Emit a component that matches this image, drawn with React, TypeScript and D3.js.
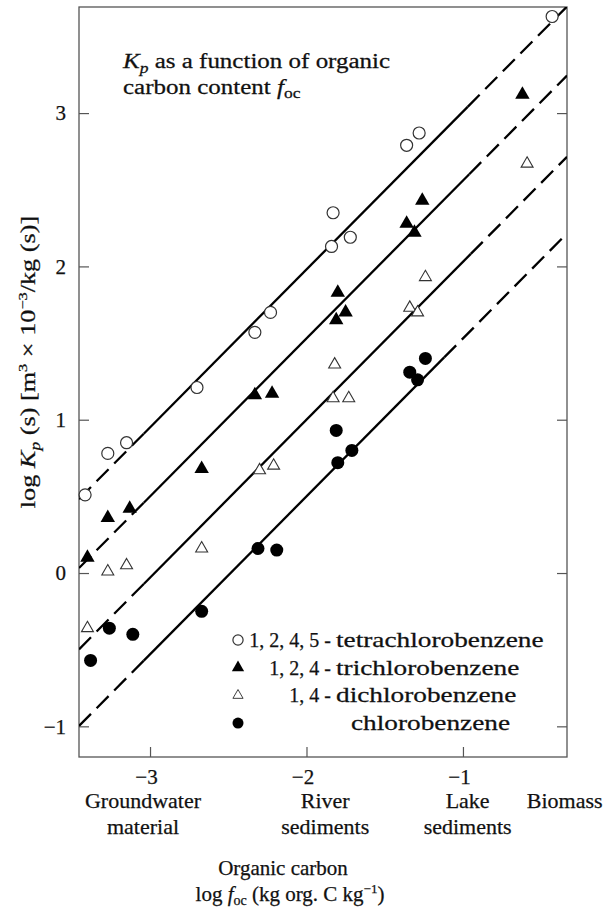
import React, { useRef, useEffect } from "react";
import * as d3 from "d3";

// Lecturas del gráfico: log f_oc (x) y log Kp (y)
const tetraX = [-3.415, -3.27, -3.15, -2.7, -2.33, -2.23, -1.83, -1.84, -1.72, -1.36, -1.28, -0.43];
const tetraY = [0.51, 0.78, 0.85, 1.21, 1.57, 1.7, 2.35, 2.13, 2.19, 2.79, 2.87, 3.63];
const triX = [-3.4, -3.27, -3.13, -2.67, -2.33, -2.22, -1.8, -1.75, -1.81, -1.26, -1.36, -1.31, -0.62];
const triY = [0.1, 0.36, 0.42, 0.68, 1.16, 1.17, 1.83, 1.7, 1.65, 2.43, 2.28, 2.22, 3.12];
const diX = [-3.4, -3.27, -3.15, -2.67, -2.3, -2.21, -1.82, -1.83, -1.73, -1.34, -1.29, -1.24, -0.59];
const diY = [-0.36, 0.01, 0.05, 0.16, 0.67, 0.7, 1.36, 1.14, 1.14, 1.73, 1.7, 1.93, 2.67];
const chloroX = [-3.38, -3.26, -3.11, -2.67, -2.31, -2.19, -1.81, -1.8, -1.71, -1.24, -1.34, -1.29];
const chloroY = [-0.57, -0.36, -0.4, -0.25, 0.16, 0.15, 0.93, 0.72, 0.8, 1.4, 1.31, 1.26];

// Rectas de ajuste: ordenada en log f_oc = 0, pendiente común, tramo continuo
const lineIntercepts = [4.04, 3.59, 3.06, 2.56];
const lineSlope = 1.03;
const solidStart = -3.04;
const solidEnds = [-0.97, -0.96, -0.95, -1.12];

const legendPrefixes = ["1, 2, 4, 5 -", "1, 2, 4 -", "1, 4 -", ""];
const legendNames = ["tetrachlorobenzene", "trichlorobenzene", "dichlorobenzene", "chlorobenzene"];

const xTicks = [-3, -2, -1];
const yTicks = [-1, 0, 1, 2, 3];
const categoryTop = ["Groundwater", "River", "Lake", "Biomass"];
const categoryBottom = ["material", "sediments", "sediments", ""];
const categoryAt = [-3.045, -1.88, -0.97, -0.35];

const FONT = "'Liberation Serif', 'Times New Roman', serif";

const Chart = ({ width = 615, height = 914 }) => {
  const d3Container = useRef(null);

  useEffect(() => {
    const container = d3Container.current;
    if (!container) return;
    d3.select(container).selectChildren().remove();

    d3.select(container)
      .append("style")
      .text("text { stroke: #111; stroke-width: 0.25px; }");

    const svg = d3
      .select(container)
      .append("g")
      .style("font-family", FONT)
      .attr("fill", "#111");

    const x = d3.scaleLinear().domain([-3.454, -0.335]).range([79, 567]);
    const y = d3.scaleLinear().domain([-1.2, 3.692]).range([757, 7]);
    const [x0, x1] = x.range();
    const [y0, y1] = y.range();

    // Marco
    svg
      .append("rect")
      .attr("x", x0)
      .attr("y", y1)
      .attr("width", x1 - x0)
      .attr("height", y0 - y1)
      .attr("fill", "none")
      .attr("stroke", "#555")
      .attr("stroke-width", 1.3);

    // Ejes con marcas interiores
    const fmt = d3.format("d");
    const left = svg
      .append("g")
      .attr("transform", `translate(${x0},0)`)
      .call(d3.axisLeft(y).tickValues(yTicks).tickFormat(fmt).tickSize(-10).tickPadding(13));
    const right = svg
      .append("g")
      .attr("transform", `translate(${x1},0)`)
      .call(d3.axisRight(y).tickValues(yTicks).tickSize(-10).tickFormat(() => ""));
    const bottom = svg
      .append("g")
      .attr("transform", `translate(0,${y0})`)
      .call(d3.axisBottom(x).tickValues(xTicks).tickFormat(fmt).tickSize(-10).tickPadding(12));

    [left, right, bottom].forEach((g) => {
      g.select(".domain").remove();
      g.selectAll("line").attr("stroke", "#555").attr("stroke-width", 1.2);
      g.selectAll("text")
        .style("font-family", FONT)
        .style("font-size", "21px")
        .attr("fill", "#111");
    });
    bottom.selectAll("text").attr("dx", "-4");

    // Rectas (discontinuas en los extremos)
    svg
      .append("clipPath")
      .attr("id", "plot-clip")
      .append("rect")
      .attr("x", x0)
      .attr("y", y1)
      .attr("width", x1 - x0)
      .attr("height", y0 - y1);

    const lines = svg.append("g").attr("clip-path", "url(#plot-clip)");
    lineIntercepts.forEach((a, i) => {
      const f = (v) => a + lineSlope * v;
      const parts = [
        [x.domain()[0], solidStart, "17,8"],
        [solidStart, solidEnds[i], null],
        [solidEnds[i], x.domain()[1], "17,8"],
      ];
      parts.forEach(([s, e, dash]) => {
        const pts = [s, e].map((v) => [x(v), y(f(v))]);
        lines
          .append("path")
          .attr("d", d3.line()(pts))
          .attr("fill", "none")
          .attr("stroke", "#000")
          .attr("stroke-width", 2.3)
          .attr("stroke-dasharray", dash);
      });
    });

    // Puntos
    const triBig = d3.symbol().type(d3.symbolTriangle).size(90)();
    const triSmall = d3.symbol().type(d3.symbolTriangle).size(62)();
    const drawMarker = (g, kind, cx, cy, k) => {
      if (kind === "openCircle") {
        g.append("circle")
          .attr("cx", cx)
          .attr("cy", cy)
          .attr("r", 6 * k)
          .attr("fill", "#fff")
          .attr("stroke", "#333")
          .attr("stroke-width", 1.2);
      } else if (kind === "filledCircle") {
        g.append("circle")
          .attr("cx", cx)
          .attr("cy", cy)
          .attr("r", 6.5 * k)
          .attr("fill", "#000");
      } else if (kind === "filledTri") {
        g.append("path")
          .attr("d", triBig)
          .attr("transform", `translate(${cx},${cy}) scale(${k})`)
          .attr("fill", "#000");
      } else {
        g.append("path")
          .attr("d", triSmall)
          .attr("transform", `translate(${cx},${cy}) scale(${k})`)
          .attr("fill", "#fff")
          .attr("stroke", "#333")
          .attr("stroke-width", 1.1);
      }
    };
    const drawSeries = (xs, ys, kind, g) => {
      xs.forEach((xv, i) => drawMarker(g, kind, x(xv), y(ys[i]), 1));
    };

    const pts = svg.append("g");
    drawSeries(tetraX, tetraY, "openCircle", pts);
    drawSeries(triX, triY, "filledTri", pts);
    drawSeries(diX, diY, "openTri", pts);
    drawSeries(chloroX, chloroY, "filledCircle", pts);

    // Leyenda
    const kinds = ["openCircle", "filledTri", "openTri", "filledCircle"];
    const legend = svg.append("g");
    legendNames.forEach((name, i) => {
      const ry = 640 + i * 27.7;
      drawMarker(legend, kinds[i], 238, ry, 0.85);
      const t = legend.append("g").attr("transform", `translate(0,${ry + 7})`);
      if (legendPrefixes[i]) {
        t.append("text")
          .attr("x", 331)
          .attr("text-anchor", "end")
          .style("font-size", "20px")
          .text(legendPrefixes[i]);
      }
      t.append("text")
        .attr("transform", `translate(${i === 3 ? 351 : 336},0) scale(1.3,1)`)
        .style("font-size", "21px")
        .text(name);
    });

    // Anotación
    const note = svg.append("g").style("font-size", "20px");
    const l1 = note.append("text").attr("transform", "translate(123,68) scale(1.25,1)");
    l1.append("tspan").attr("font-style", "italic").text("K");
    l1.append("tspan").attr("font-style", "italic").attr("font-size", "14px").attr("dy", 5).text("p");
    l1.append("tspan").attr("dy", -5).text(" as a function of organic");
    const l2 = note.append("text").attr("transform", "translate(123,94) scale(1.25,1)");
    l2.append("tspan").text("carbon content ");
    l2.append("tspan").attr("font-style", "italic").text("f");
    l2.append("tspan").attr("font-size", "14px").attr("dy", 4).text("oc");

    // Rótulos de categorías bajo el eje X
    const cats = svg.append("g").style("font-size", "22px").attr("text-anchor", "middle");
    categoryTop.forEach((c, i) => {
      cats.append("text").attr("x", x(categoryAt[i])).attr("y", 808).text(c);
      if (categoryBottom[i]) {
        cats.append("text").attr("x", x(categoryAt[i])).attr("y", 834).text(categoryBottom[i]);
      }
    });

    // Título eje X
    const xt = svg.append("g").style("font-size", "21px").attr("text-anchor", "middle");
    xt.append("text").attr("x", 283).attr("y", 875).text("Organic carbon");
    const xl = xt.append("text").attr("x", 290).attr("y", 901);
    xl.append("tspan").text("log ");
    xl.append("tspan").attr("font-style", "italic").text("f");
    xl.append("tspan").attr("font-size", "14px").attr("dy", 4).text("oc");
    xl.append("tspan").attr("dy", -4).text(" (kg org. C kg");
    xl.append("tspan").attr("font-size", "13px").attr("dy", -8).text("−1");
    xl.append("tspan").attr("dy", 8).text(")");

    // Título eje Y (girado)
    const yl = svg
      .append("text")
      .attr("transform", "translate(35,362) rotate(-90) scale(1.25,1)")
      .attr("text-anchor", "middle")
      .style("font-size", "21px");
    yl.append("tspan").text("log ");
    yl.append("tspan").attr("font-style", "italic").text("K");
    yl.append("tspan").attr("font-style", "italic").attr("font-size", "14px").attr("dy", 5).text("p");
    yl.append("tspan").attr("dy", -5).text(" (s) [m");
    yl.append("tspan").attr("font-size", "13px").attr("dy", -8).text("3");
    yl.append("tspan").attr("dy", 8).text(" × 10");
    yl.append("tspan").attr("font-size", "13px").attr("dy", -8).text("−3");
    yl.append("tspan").attr("dy", 8).text("/kg (s)]");
  }, [width, height]);

  return (
    <svg
      ref={d3Container}
      width={width}
      height={height}
      style={{ position: "absolute", left: 0, top: 0, background: "#fff" }}
    />
  );
};

export default function App() {
  return <Chart />;
}
